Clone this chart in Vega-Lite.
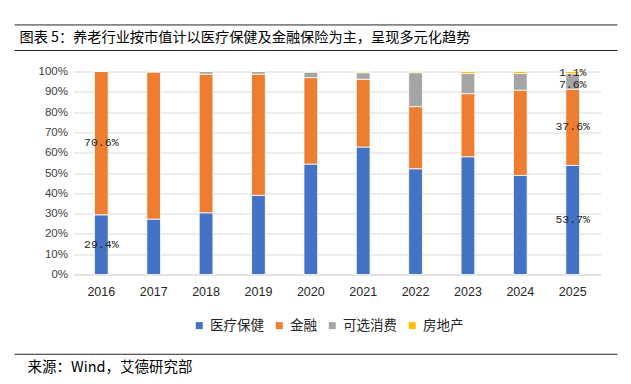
{
  "$schema": "https://vega.github.io/schema/vega-lite/v6.json",
  "width": 527,
  "height": 203,
  "autosize": {"type": "pad"},
  "padding": {"left": 13.5, "top": 23.5, "right": 13.5, "bottom": 8},
  "background": "white",
  "datasets": {
    "shares": [
      {"year": "2016", "sector": "医疗保健", "idx": 1, "share": 0.294},
      {"year": "2016", "sector": "金融", "idx": 2, "share": 0.706},
      {"year": "2016", "sector": "可选消费", "idx": 3, "share": 0.0},
      {"year": "2016", "sector": "房地产", "idx": 4, "share": 0.0},
      {"year": "2017", "sector": "医疗保健", "idx": 1, "share": 0.273},
      {"year": "2017", "sector": "金融", "idx": 2, "share": 0.724},
      {"year": "2017", "sector": "可选消费", "idx": 3, "share": 0.003},
      {"year": "2017", "sector": "房地产", "idx": 4, "share": 0.0},
      {"year": "2018", "sector": "医疗保健", "idx": 1, "share": 0.304},
      {"year": "2018", "sector": "金融", "idx": 2, "share": 0.683},
      {"year": "2018", "sector": "可选消费", "idx": 3, "share": 0.013},
      {"year": "2018", "sector": "房地产", "idx": 4, "share": 0.0},
      {"year": "2019", "sector": "医疗保健", "idx": 1, "share": 0.39},
      {"year": "2019", "sector": "金融", "idx": 2, "share": 0.597},
      {"year": "2019", "sector": "可选消费", "idx": 3, "share": 0.013},
      {"year": "2019", "sector": "房地产", "idx": 4, "share": 0.0},
      {"year": "2020", "sector": "医疗保健", "idx": 1, "share": 0.544},
      {"year": "2020", "sector": "金融", "idx": 2, "share": 0.426},
      {"year": "2020", "sector": "可选消费", "idx": 3, "share": 0.027},
      {"year": "2020", "sector": "房地产", "idx": 4, "share": 0.003},
      {"year": "2021", "sector": "医疗保健", "idx": 1, "share": 0.628},
      {"year": "2021", "sector": "金融", "idx": 2, "share": 0.334},
      {"year": "2021", "sector": "可选消费", "idx": 3, "share": 0.032},
      {"year": "2021", "sector": "房地产", "idx": 4, "share": 0.006},
      {"year": "2022", "sector": "医疗保健", "idx": 1, "share": 0.521},
      {"year": "2022", "sector": "金融", "idx": 2, "share": 0.306},
      {"year": "2022", "sector": "可选消费", "idx": 3, "share": 0.167},
      {"year": "2022", "sector": "房地产", "idx": 4, "share": 0.006},
      {"year": "2023", "sector": "医疗保健", "idx": 1, "share": 0.58},
      {"year": "2023", "sector": "金融", "idx": 2, "share": 0.311},
      {"year": "2023", "sector": "可选消费", "idx": 3, "share": 0.099},
      {"year": "2023", "sector": "房地产", "idx": 4, "share": 0.01},
      {"year": "2024", "sector": "医疗保健", "idx": 1, "share": 0.488},
      {"year": "2024", "sector": "金融", "idx": 2, "share": 0.42},
      {"year": "2024", "sector": "可选消费", "idx": 3, "share": 0.082},
      {"year": "2024", "sector": "房地产", "idx": 4, "share": 0.01},
      {"year": "2025", "sector": "医疗保健", "idx": 1, "share": 0.537},
      {"year": "2025", "sector": "金融", "idx": 2, "share": 0.376},
      {"year": "2025", "sector": "可选消费", "idx": 3, "share": 0.076},
      {"year": "2025", "sector": "房地产", "idx": 4, "share": 0.011}
    ]
  },
  "layer": [
    {
      "data": {"name": "shares"},
      "layer": [
        {
          "mark": {"type": "bar", "stroke": "white", "strokeWidth": 0.8},
          "encoding": {
            "x": {
              "field": "year", "type": "nominal", "title": null,
              "scale": {"paddingInner": 0.738, "paddingOuter": 0.4},
              "axis": {"labelAngle": 0, "labelFont": "Liberation Sans", "labelFontSize": 12.5, "labelColor": "#262626", "labelPadding": 11, "ticks": false, "domain": true, "domainColor": "#D9D9D9", "grid": false}
            },
            "y": {
              "field": "share", "type": "quantitative", "stack": "zero", "title": null,
              "scale": {"domain": [0, 1], "nice": false, "zero": true},
              "axis": {"values": [0, 0.1, 0.2, 0.3, 0.4, 0.5, 0.6, 0.7, 0.8, 0.9, 1], "tickCount": 11, "format": ".0%", "labelOverlap": false}
            },
            "color": {
              "field": "sector", "type": "nominal",
              "scale": {"domain": ["医疗保健", "金融", "可选消费", "房地产"], "range": ["#4472C4", "#ED7D31", "#A5A5A5", "#FFC000"]},
              "legend": {"orient": "none", "legendX": 119, "legendY": 247, "direction": "horizontal", "title": null, "symbolType": "square", "symbolSize": 49, "symbolStrokeWidth": 0, "labelFont": "Noto Sans CJK SC", "labelFontSize": 13.5, "labelColor": "#262626", "labelOffset": 4, "columnPadding": 8}
            },
            "order": {"field": "idx", "type": "quantitative", "sort": "ascending"}
          }
        },
        {
          "transform": [
            {"filter": "(datum.year == '2016' || datum.year == '2025') && datum.share > 0"}
          ],
          "mark": {"type": "text", "font": "Liberation Mono", "fontSize": 11.5, "color": "#262626", "baseline": "middle", "align": "center", "dy": {"expr": "datum.sector == '可选消费' ? 3.5 : 0"}},
          "encoding": {
            "x": {"field": "year", "type": "nominal", "title": null},
            "y": {"field": "share", "type": "quantitative", "stack": "zero", "bandPosition": 0.5, "title": null,
              "axis": {"values": [0, 0.1, 0.2, 0.3, 0.4, 0.5, 0.6, 0.7, 0.8, 0.9, 1], "tickCount": 11, "format": ".0%", "labelOverlap": false}},
            "order": {"field": "idx", "type": "quantitative", "sort": "ascending"},
            "text": {"field": "share", "type": "quantitative", "format": ".1%"}
          }
        }
      ]
    },
    {
      "data": {"values": [{}]},
      "mark": {"type": "rule", "color": "#262626", "strokeWidth": 1},
      "encoding": {
        "x": {"datum": -0.112, "type": "quantitative", "scale": {"domain": [0, 1], "nice": false, "zero": false}, "axis": null},
        "x2": {"datum": 1.0323},
        "y": {"datum": 1.2293, "type": "quantitative", "title": null, "axis": null, "scale": {"domain": [0, 1], "nice": false}}
      }
    },
    {
      "data": {"values": [{}]},
      "mark": {"type": "rule", "color": "#262626", "strokeWidth": 1},
      "encoding": {
        "x": {"datum": -0.112, "type": "quantitative", "scale": {"domain": [0, 1], "nice": false, "zero": false}, "axis": null},
        "x2": {"datum": 1.0323},
        "y": {"datum": 1.1036, "type": "quantitative", "title": null, "axis": null, "scale": {"domain": [0, 1], "nice": false}}
      }
    },
    {
      "data": {"values": [{}]},
      "mark": {"type": "rule", "color": "#262626", "strokeWidth": 1},
      "encoding": {
        "x": {"datum": -0.112, "type": "quantitative", "scale": {"domain": [0, 1], "nice": false, "zero": false}, "axis": null},
        "x2": {"datum": 1.0323},
        "y": {"datum": -0.393, "type": "quantitative", "title": null, "axis": null, "scale": {"domain": [0, 1], "nice": false}}
      }
    },
    {
      "data": {"values": [{}]},
      "mark": {"type": "text", "align": "left", "baseline": "middle", "font": "Noto Sans CJK SC", "fontSize": 14.2, "color": "#000000"},
      "encoding": {
        "x": {"datum": -0.1025, "type": "quantitative", "scale": {"domain": [0, 1], "nice": false, "zero": false}, "axis": null},
        "y": {"datum": 1.165, "type": "quantitative", "title": null, "axis": null, "scale": {"domain": [0, 1], "nice": false}},
        "text": {"value": "图表 5：养老行业按市值计以医疗保健及金融保险为主，呈现多元化趋势"}
      }
    },
    {
      "data": {"values": [{}]},
      "mark": {"type": "text", "align": "left", "baseline": "middle", "font": "Noto Sans CJK SC", "fontSize": 14.5, "color": "#000000"},
      "encoding": {
        "x": {"datum": -0.0873, "type": "quantitative", "scale": {"domain": [0, 1], "nice": false, "zero": false}, "axis": null},
        "y": {"datum": -0.4606, "type": "quantitative", "title": null, "axis": null, "scale": {"domain": [0, 1], "nice": false}},
        "text": {"value": "来源：Wind，艾德研究部"}
      }
    }
  ],
  "resolve": {"scale": {"x": "independent", "y": "independent"}},
  "config": {
    "view": {"stroke": null},
    "axisY": {"tickCount": 11, "labelFont": "Liberation Sans", "labelFontSize": 11.5, "labelColor": "#404040", "labelPadding": 6, "ticks": false, "domain": false, "grid": true, "gridColor": "#D9D9D9", "gridWidth": 1}
  }
}
